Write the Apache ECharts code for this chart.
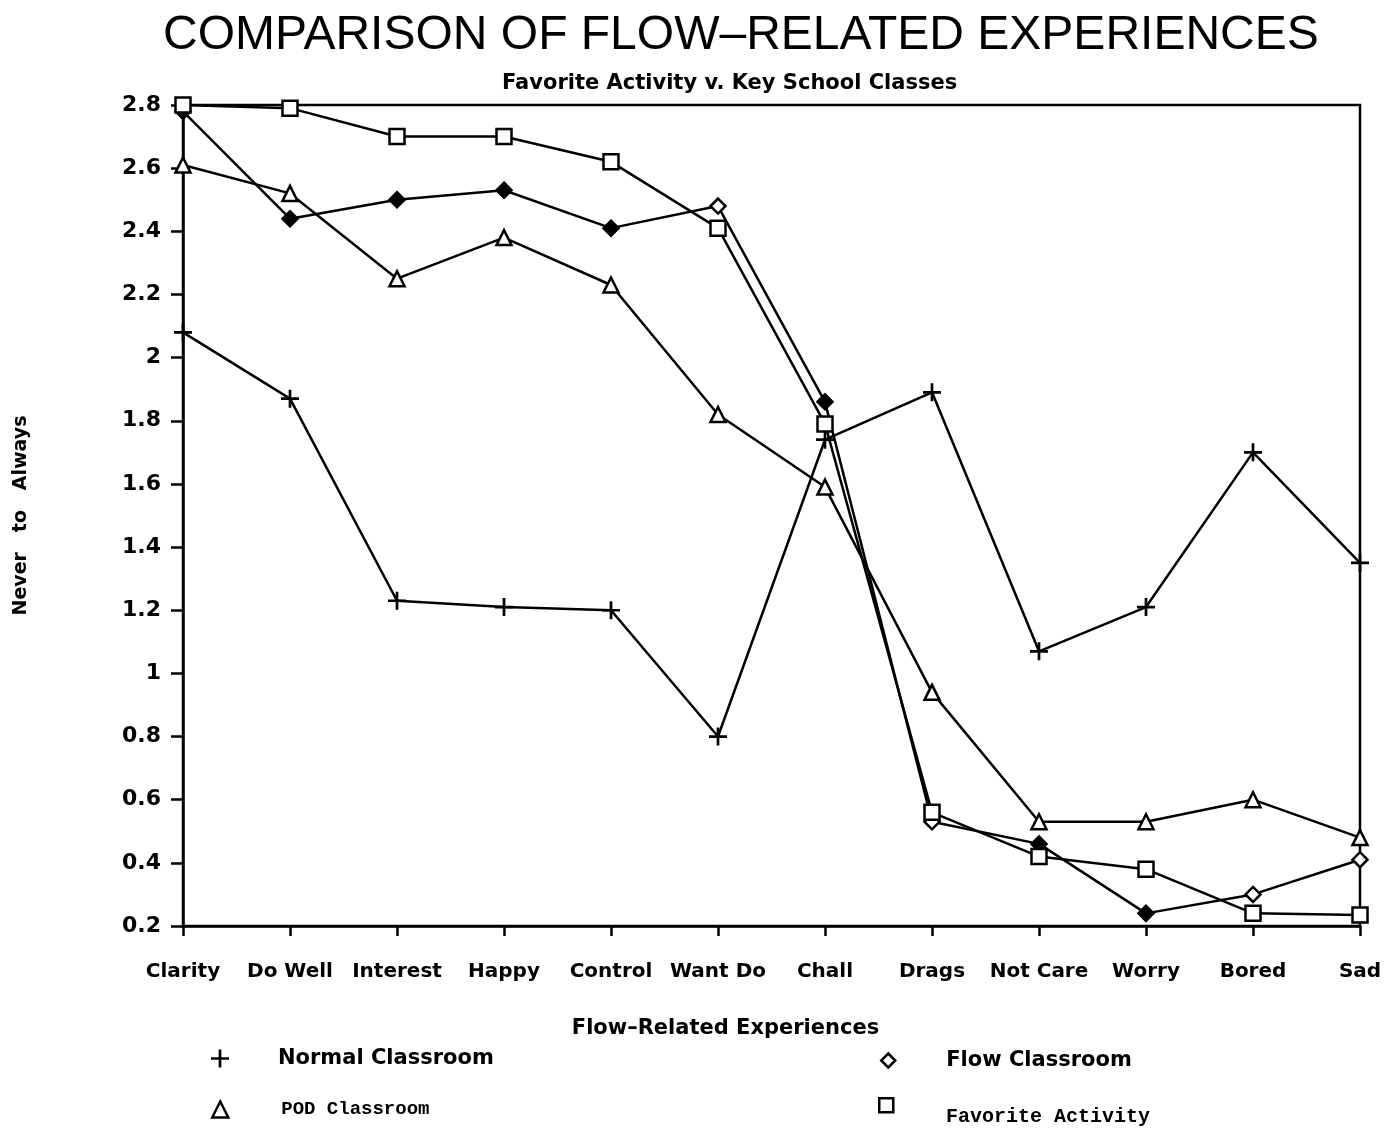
<!DOCTYPE html>
<html>
<head>
<meta charset="utf-8">
<script src="https://cdn.jsdelivr.net/npm/echarts@6/dist/echarts.min.js"></script>
<style>html,body{margin:0;padding:0;background:#fff}#c{width:1395px;height:1129px}</style>
</head>
<body>
<div id="c"></div>
<script>
const categories = ['Clarity','Do Well','Interest','Happy','Control','Want Do','Chall','Drags','Not Care','Worry','Bored','Sad'];
const normalClassroom = [2.08,1.87,1.23,1.21,1.20,0.80,1.74,1.89,1.07,1.21,1.70,1.35];
const flowClassroom   = [2.78,2.44,2.50,2.53,2.41,2.48,1.86,0.53,0.46,0.24,0.30,0.41];
const podClassroom    = [2.61,2.52,2.25,2.38,2.23,1.82,1.59,0.94,0.53,0.53,0.60,0.48];
const favoriteActivity= [2.80,2.79,2.70,2.70,2.62,2.41,1.79,0.56,0.42,0.38,0.24,0.235];
const flowFilled      = [true,true,true,true,true,false,true,false,true,true,false,false];
const yTicks = {min:0.2, max:2.8, step:0.2};

const PLUS = 'path://M8.5,0 L11.5,0 L11.5,20 L8.5,20 Z M0,8.5 L20,8.5 L20,11.5 L0,11.5 Z';
const sansB = 'DejaVu Sans';

const chart = echarts.init(document.getElementById('c'), null, {renderer:'canvas'});
const lineBase = {type:'line', symbolSize:14, lineStyle:{color:'#000', width:2.5}, emphasis:{disabled:true}, animation:false};

function legendAt(name, icon, left, top, text, iconSize, padLeft){
  return {
    data:[{name:name, icon:icon}],
    left:left, top:top, itemWidth:iconSize||18, itemHeight:iconSize||18, selectedMode:false,
    itemStyle:{color:icon==='triangle'||icon==='rect'||icon==='diamond'?'#fff':'#000', borderColor:'#000', borderWidth:icon===PLUS?0:2.5},
    textStyle:Object.assign({color:'#000', padding:[0,0,0,padLeft||48]}, text)
  };
}

chart.setOption({
  backgroundColor:'#fff',
  title:[
    {text:'COMPARISON OF FLOW\u2013RELATED EXPERIENCES', left:158, top:7,
     textStyle:{fontFamily:'Liberation Sans, sans-serif', fontWeight:'normal', fontSize:48, color:'#000'}},
    {text:'Favorite Activity v. Key School Classes', left:497, top:68,
     textStyle:{fontFamily:sansB, fontWeight:'bold', fontSize:21, color:'#000'}}
  ],
  legend:[
    legendAt('Normal Classroom', PLUS, 206, 1043, {fontFamily:sansB, fontSize:21, fontWeight:'bold'}, 18, 44),
    legendAt('POD Classroom', 'triangle', 206, 1095, {fontFamily:'Liberation Mono', fontSize:19, fontWeight:'bold'}, 16, 48),
    legendAt('Flow Classroom', 'diamond', 875, 1045, {fontFamily:sansB, fontSize:21, fontWeight:'bold'}, 14, 46),
    Object.assign(legendAt('Favorite Activity', 'rect', 873, 1092, {}, 14, 0), {formatter:function(){return '';}}),
    {data:[{name:'Favorite Activity', icon:'rect'}], left:935, top:1102, itemWidth:1, itemHeight:1, selectedMode:false,
     itemStyle:{color:'rgba(0,0,0,0)', borderWidth:0},
     textStyle:{color:'#000', fontFamily:'Liberation Mono', fontSize:20, fontWeight:'bold'}}
  ],
  grid:{left:183, right:35, top:105, bottom:203, show:true, borderColor:'#000', borderWidth:2.5, backgroundColor:'transparent'},
  xAxis:{
    type:'category', data:categories, boundaryGap:false,
    axisLine:{lineStyle:{color:'#000', width:2.5}},
    axisTick:{show:true, alignWithLabel:true, interval:0, length:10, lineStyle:{color:'#000', width:2.5}},
    axisLabel:{interval:0, color:'#000', fontFamily:sansB, fontWeight:'bold', fontSize:20, margin:36},
    name:'Flow\u2013Related Experiences', nameLocation:'middle', nameGap:92,
    nameTextStyle:{color:'#000', fontFamily:sansB, fontWeight:'bold', fontSize:21, padding:[0,92,0,0]},
    splitLine:{show:false}
  },
  yAxis:{
    type:'value', min:yTicks.min, max:yTicks.max, interval:yTicks.step,
    axisLine:{show:true, lineStyle:{color:'#000', width:2.5}},
    axisTick:{show:true, length:12, lineStyle:{color:'#000', width:2.5}},
    axisLabel:{color:'#000', fontFamily:sansB, fontWeight:'bold', fontSize:22, margin:22,
      formatter:function(v){return String(Math.round(v*10)/10);}},
    splitLine:{show:false},
    name:'Never   to   Always', nameLocation:'middle', nameGap:152, nameRotate:90,
    nameTextStyle:{color:'#000', fontFamily:sansB, fontWeight:'bold', fontSize:19}
  },
  series:[
    Object.assign({}, lineBase, {name:'Normal Classroom', data:normalClassroom, symbol:PLUS, symbolSize:18,
      itemStyle:{color:'#000'}}),
    Object.assign({}, lineBase, {name:'POD Classroom', data:podClassroom, symbol:'triangle', symbolSize:15,
      itemStyle:{color:'#fff', borderColor:'#000', borderWidth:2.5}}),
    Object.assign({}, lineBase, {name:'Flow Classroom', symbol:'diamond', symbolSize:15,
      data:flowClassroom.map((v,i)=>({value:v, itemStyle:{color:flowFilled[i]?'#000':'#fff'}})),
      itemStyle:{color:'#000', borderColor:'#000', borderWidth:2.5}}),
    Object.assign({}, lineBase, {name:'Favorite Activity', data:favoriteActivity, symbol:'rect', symbolSize:15,
      itemStyle:{color:'#fff', borderColor:'#000', borderWidth:2.5}})
  ]
});
</script>
</body>
</html>
